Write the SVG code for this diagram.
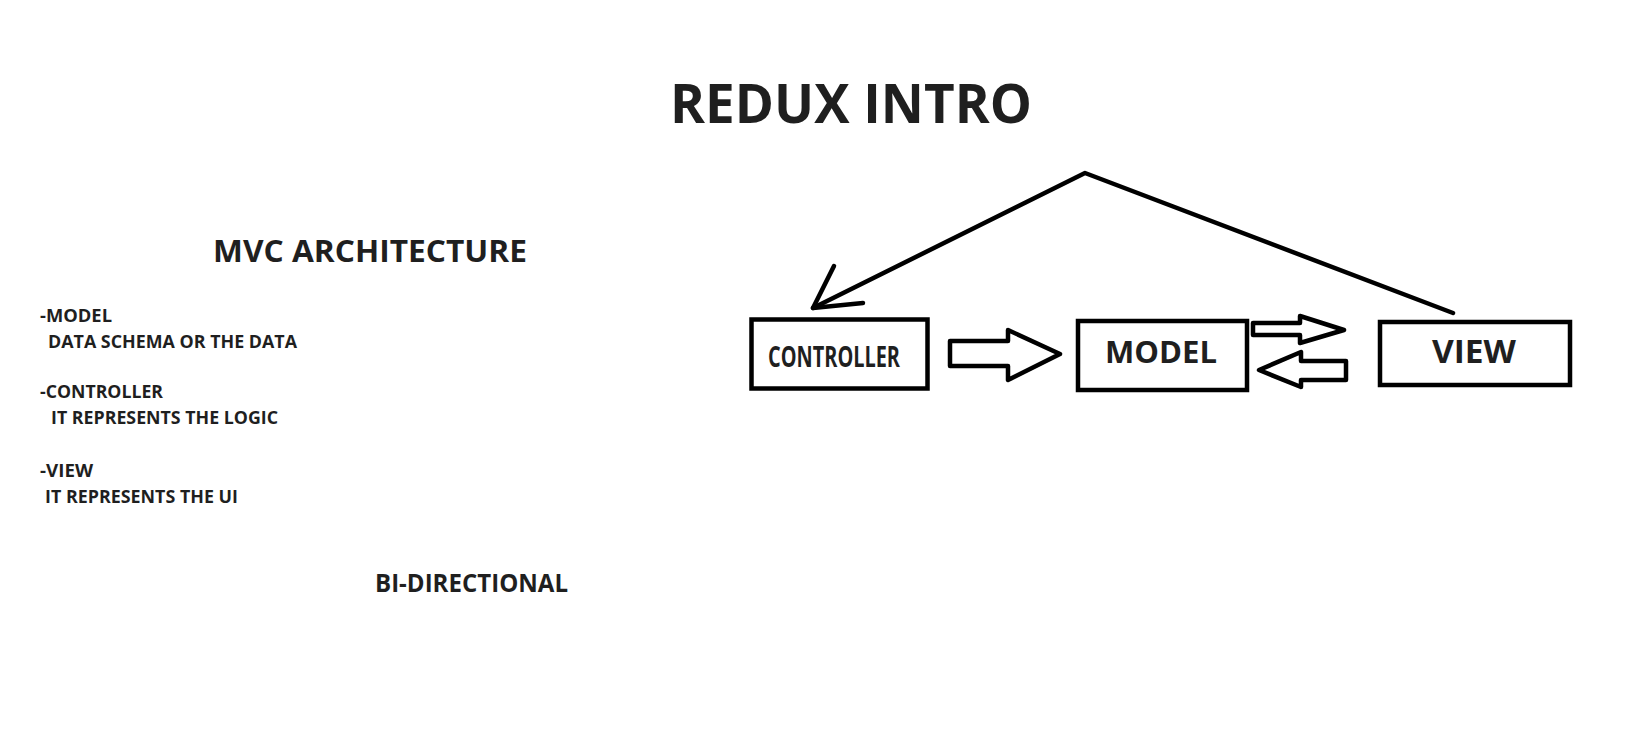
<svg xmlns="http://www.w3.org/2000/svg" width="1639" height="751" viewBox="0 0 1639 751">
<style>
  text { font-family: "Open Sans", "Liberation Sans", sans-serif; font-weight: 700; fill: #1f1f1f; }
  .box { fill: #ffffff; stroke: #000000; stroke-width: 4.5; }
  .hollow { fill: #ffffff; stroke: #000000; stroke-width: 4.5; stroke-linejoin: round; }
  .line { fill: none; stroke: #000000; stroke-width: 4.5; stroke-linecap: round; stroke-linejoin: round; }
  .note { font-size: 17.5px; }
</style>
<rect x="0" y="0" width="1639" height="751" fill="#ffffff"/>

<g id="title">
  <text x="670" y="123" font-size="54" textLength="362" lengthAdjust="spacingAndGlyphs">REDUX INTRO</text>
</g>

<g id="mvc-notes">
  <text x="213" y="262" font-size="31" textLength="314" lengthAdjust="spacingAndGlyphs">MVC ARCHITECTURE</text>
  <text class="note" x="40" y="322" textLength="72" lengthAdjust="spacingAndGlyphs">-MODEL</text>
  <text class="note" x="48" y="348" textLength="249" lengthAdjust="spacingAndGlyphs">DATA SCHEMA OR THE DATA</text>
  <text class="note" x="40" y="398" textLength="123" lengthAdjust="spacingAndGlyphs">-CONTROLLER</text>
  <text class="note" x="51" y="424" textLength="227" lengthAdjust="spacingAndGlyphs">IT REPRESENTS THE LOGIC</text>
  <text class="note" x="40" y="477" textLength="53" lengthAdjust="spacingAndGlyphs">-VIEW</text>
  <text class="note" x="45" y="503" textLength="193" lengthAdjust="spacingAndGlyphs">IT REPRESENTS THE UI</text>
  <text x="375" y="592" font-size="25" textLength="193" lengthAdjust="spacingAndGlyphs">BI-DIRECTIONAL</text>
</g>

<g id="connectors">
  <polyline class="line" points="813,308 1085,173 1453,313"/>
  <polyline class="line" points="834,266 813,308 863,303"/>
  <polygon id="arrow-controller-model" class="hollow" points="950,341 1008,341 1008,330 1060,354 1008,380 1008,366 950,366"/>
  <polygon id="arrow-model-view" class="hollow" points="1253,323 1300,323 1300,316 1344,330 1300,343 1300,335 1253,335"/>
  <polygon id="arrow-view-model" class="hollow" points="1259,370 1301,352 1301,361 1346,361 1346,380 1301,380 1301,387"/>
</g>

<g id="node-controller">
  <rect class="box" x="751.5" y="319.5" width="176" height="69"/>
  <text x="768" y="367" font-size="29" font-weight="600" textLength="132" lengthAdjust="spacingAndGlyphs">CONTROLLER</text>
</g>

<g id="node-model">
  <rect class="box" x="1078" y="321" width="169" height="69"/>
  <text x="1161" y="363" font-size="31" text-anchor="middle" textLength="112" lengthAdjust="spacingAndGlyphs">MODEL</text>
</g>

<g id="node-view">
  <rect class="box" x="1380" y="322" width="190" height="63"/>
  <text x="1474" y="363" font-size="32" text-anchor="middle" textLength="84" lengthAdjust="spacingAndGlyphs">VIEW</text>
</g>
</svg>
